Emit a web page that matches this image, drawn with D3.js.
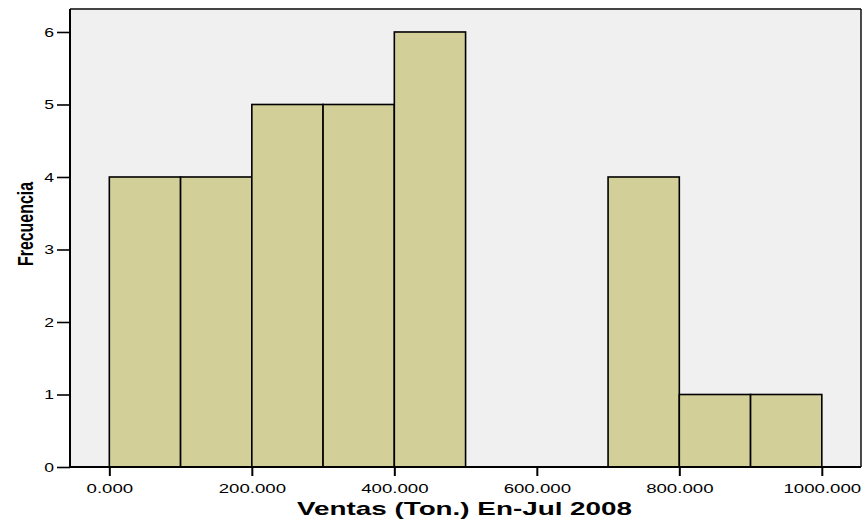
<html>
<script src='https://d3js.org/d3.v7.min.js'></script>
<style>
  body { margin: 0; background: #fff; }
  text { font-family: 'Liberation Sans', Arial, sans-serif; fill: #000; }
</style>
<body>
<svg width=865 height=521></svg>
<script>
// histogram bins (lower edge, upper edge) and counts
var binStart = [0, 100, 200, 300, 400, 500, 600, 700, 800, 900];
var binEnd   = [100, 200, 300, 400, 500, 600, 700, 800, 900, 1000];
var counts   = [4, 4, 5, 5, 6, 0, 0, 4, 1, 1];
var xTicks = [0, 200, 400, 600, 800, 1000];
var xTickLabels = ['0.000', '200.000', '400.000', '600.000', '800.000', '1000.000'];
var yTicks = [0, 1, 2, 3, 4, 5, 6];

var svg = d3.select('svg');
var pL = 70, pR = 861, pT = 9, pB = 467;

var x = d3.scaleLinear().domain([-55.2, 1055]).range([pL, pR]);
var y = d3.scaleLinear().domain([0, 6.317]).range([pB, pT]);

// stretch text horizontally like the SPSS output
function widen(sel, k) {
  sel.each(function() {
    var w = this.getComputedTextLength();
    d3.select(this).attr('textLength', w * k).attr('lengthAdjust', 'spacingAndGlyphs');
  });
}

// plot background
svg.append('rect')
    .attr('x', pL).attr('y', pT)
    .attr('width', pR - pL).attr('height', pB - pT)
    .attr('fill', '#f0f0f0');

// bars
var data = binStart.map(function(d, i) { return {a: d, b: binEnd[i], n: counts[i]}; })
    .filter(function(d) { return d.n > 0; });
svg.append('g')
    .selectAll('rect')
    .data(data)
    .enter()
    .append('rect')
    .attr('x', function(d) { return x(d.a); })
    .attr('y', function(d) { return y(d.n); })
    .attr('width', function(d) { return x(d.b) - x(d.a); })
    .attr('height', function(d) { return y(0) - y(d.n); })
    .attr('fill', '#d3cf99')
    .attr('stroke', '#000')
    .attr('stroke-width', 1.6);

// frame top and right
svg.append('line').attr('x1', pL).attr('x2', pR).attr('y1', pT).attr('y2', pT)
    .attr('stroke', '#444').attr('stroke-width', 2);
svg.append('line').attr('x1', pR).attr('x2', pR).attr('y1', pT).attr('y2', pB)
    .attr('stroke', '#111').attr('stroke-width', 1.5);

// y axis
var yAxis = svg.append('g')
    .attr('transform', 'translate(' + pL + ',0)')
    .call(d3.axisLeft(y).tickValues(yTicks).tickSize(13).tickPadding(3).tickFormat(d3.format('d')));
yAxis.select('.domain').attr('stroke-width', 2).attr('d', 'M0,' + pT + 'V' + pB);
yAxis.selectAll('.tick line').attr('stroke-width', 1.6);
yAxis.selectAll('text').style('font-size', '13.5px').style('font-family', "'Liberation Sans', Arial, sans-serif");
widen(yAxis.selectAll('text'), 1.3);

// x axis
var xAxis = svg.append('g')
    .attr('transform', 'translate(0,' + pB + ')')
    .call(d3.axisBottom(x).tickValues(xTicks).tickSize(9).tickPadding(7)
        .tickFormat(function(d, i) { return xTickLabels[i]; }));
xAxis.select('.domain').attr('stroke-width', 2).attr('d', 'M' + pL + ',0H' + pR);
xAxis.selectAll('.tick line').attr('stroke-width', 2);
xAxis.selectAll('text')
    .style('font-size', '13.5px')
    .style('font-family', "'Liberation Sans', Arial, sans-serif");
widen(xAxis.selectAll('text'), 1.38);

// axis titles
svg.append('text')
    .attr('x', 297).attr('y', 515)
    .attr('textLength', 335).attr('lengthAdjust', 'spacingAndGlyphs')
    .style('font-size', '18.5px').style('font-weight', 'bold')
    .text('Ventas (Ton.) En-Jul 2008');

svg.append('text')
    .attr('transform', 'translate(33,266) rotate(-90)')
    .attr('textLength', 84).attr('lengthAdjust', 'spacingAndGlyphs')
    .style('font-size', '22px').style('font-weight', 'bold')
    .text('Frecuencia');
</script>
</body>
</html>
